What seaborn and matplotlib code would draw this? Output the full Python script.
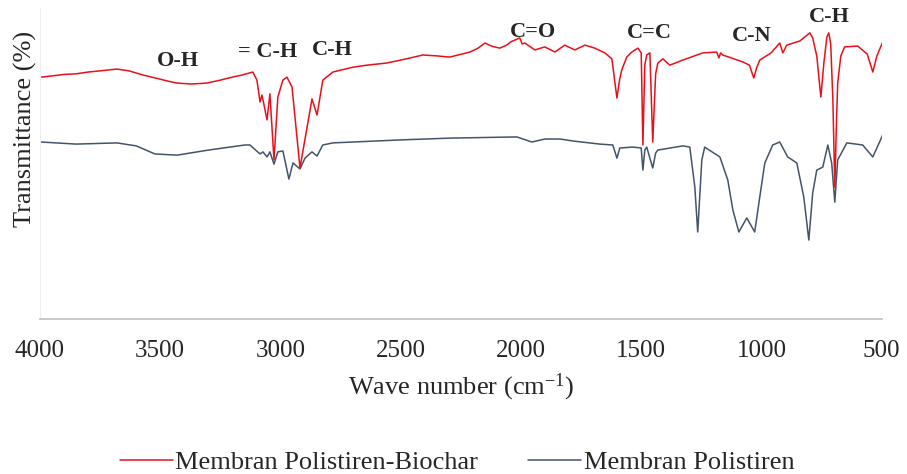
import numpy as np
import pandas as pd
import matplotlib
matplotlib.use("Agg")
import matplotlib.pyplot as plt
import seaborn as sns

# --- data (wave number in cm-1, transmittance a.u.) ---
wn_biochar = [3996, 3950, 3900, 3850, 3800, 3750, 3680, 3630, 3572, 3530, 3500, 3470,
              3430, 3370, 3306, 3250, 3200, 3160, 3115, 3098, 3085,
              3077, 3070, 3056, 3044, 3027, 3011, 2990, 2973, 2952, 2919, 2890, 2869,
              2848, 2824, 2782, 2700, 2641, 2560, 2500, 2450, 2408, 2350, 2296, 2212,
              2180, 2150, 2120, 2088, 2060, 2040, 2025, 2005, 1995,
              1984, 1942, 1901, 1859, 1818, 1776, 1734, 1693, 1651, 1622, 1601, 1590,
              1581, 1560, 1539, 1514, 1500, 1493, 1485, 1477, 1464, 1452, 1440, 1431,
              1410, 1381, 1327, 1244, 1186, 1177, 1170, 1161, 1078, 1050, 1032, 1020,
              1007, 960, 924, 911, 895, 840, 799, 787, 770, 753, 740, 728, 720, 712,
              703, 695, 688, 683, 670, 654, 600, 560, 537, 520, 496]
t_biochar = [80.9, 81.3, 81.8, 82.0, 82.6, 83.0, 83.6, 83.0, 81.6, 80.8, 80.2, 79.6,
             78.9, 78.6, 78.9, 79.9, 80.9, 81.6, 82.6, 79.9, 72.6,
             74.9, 72.2, 66.6, 75.3, 53.2, 74.2, 79.9, 80.9, 77.6, 50.5, 63.9, 73.6,
             68.2, 79.9, 82.6, 84.2, 84.9, 85.6, 86.6, 87.5, 88.3, 88.0, 87.6, 89.3,
             90.5, 92.3, 91.2, 90.6, 91.6, 92.8, 93.3, 94.0, 92.0,
             92.3, 90.0, 91.0, 89.3, 91.6, 90.0, 91.6, 90.6, 89.0, 87.0, 73.9, 80.0,
             83.3, 87.6, 89.3, 90.6, 89.0, 58.2, 85.0, 88.3, 89.0, 59.2, 82.0, 85.6,
             87.0, 84.9, 86.6, 89.0, 89.3, 87.3, 89.0, 88.3, 86.0, 84.9, 80.6, 84.0,
             86.6, 89.0, 92.3, 89.0, 91.6, 93.0, 95.7, 94.0, 88.0, 74.2, 86.0, 94.3,
             95.7, 92.0, 73.2, 44.1, 66.0, 78.9, 88.0, 91.0, 91.3, 88.6, 82.6, 88.0, 92.6]

wn_ps = [3996, 3850, 3680, 3600, 3522, 3430, 3300, 3148, 3127, 3085, 3073, 3056,
         3044, 3027, 3011, 2990, 2965, 2948, 2919, 2898, 2869, 2848, 2824, 2782,
         2500, 2296, 2017, 1955, 1900, 1838, 1780, 1672, 1618, 1601, 1589, 1535,
         1500, 1493, 1485, 1477, 1452, 1440, 1431, 1327, 1298, 1277, 1265, 1248,
         1236, 1173, 1140, 1119, 1094, 1061, 1028, 1007, 986, 953, 924, 891, 853,
         824, 803, 787, 770, 745, 724, 708, 695, 683, 645, 579, 537, 496]
t_ps = [59.2, 58.5, 58.9, 57.9, 55.2, 54.8, 56.5, 58.2, 58.2, 55.2, 55.9, 54.2,
        55.9, 51.8, 55.9, 56.2, 46.8, 52.2, 50.2, 53.8, 55.9, 54.5, 58.2, 58.9,
        59.9, 60.5, 60.9, 59.2, 60.2, 60.2, 59.5, 58.5, 58.2, 53.8, 57.2, 57.5,
        57.2, 49.8, 56.5, 57.5, 50.5, 55.5, 56.5, 57.9, 57.5, 44.1, 29.1, 53.2,
        57.5, 54.2, 46.5, 36.5, 29.1, 33.8, 29.1, 40.8, 52.2, 58.2, 59.2, 54.2, 52.2,
        40.8, 26.4, 42.1, 49.8, 50.8, 58.2, 52.2, 39.1, 53.2, 58.9, 58.2, 54.2, 61.5]

# band labels: (text, wave number, transmittance)
band_labels = ["O-H", "= C-H", "C-H", "C=O", "C=C", "C-N", "C-H"]
band_wn = [3426, 3052, 2786, 1951, 1468, 1040, 716]
band_t = [86.3, 89.3, 90.0, 96.0, 95.7, 94.6, 101.0]

series_names = ["Membran Polistiren-Biochar", "Membran Polistiren"]
colors = ["#e8101a", "#44546a"]

df = pd.concat([
    pd.DataFrame({"wn": wn_biochar, "T": t_biochar, "sampel": series_names[0]}),
    pd.DataFrame({"wn": wn_ps, "T": t_ps, "sampel": series_names[1]}),
])

sns.set_style("white")
plt.rcParams["font.family"] = ["Liberation Serif", "DejaVu Serif"]
plt.rcParams["mathtext.fontset"] = "custom"
plt.rcParams["mathtext.rm"] = "Liberation Serif"
plt.rcParams["mathtext.it"] = "Liberation Serif:italic"

fig = plt.figure(figsize=(9.07, 4.74), dpi=100)
ax = fig.add_axes([0.0441, 0.327, 0.928, 0.656])

# draw polistiren first so the red trace sits on top
for name, col in [(series_names[1], colors[1]), (series_names[0], colors[0])]:
    sns.lineplot(data=df[df["sampel"] == name], x="wn", y="T", color=col,
                 linewidth=1.1, estimator=None, sort=False, ax=ax, label=name)

for txt, x, y in zip(band_labels, band_wn, band_t):
    ax.text(x, y, txt, ha="center", va="center", fontsize=16, fontweight="bold")

ax.set_xlim(4000, 500)
ax.set_ylim(0, 104)
ax.set_xticks(np.arange(4000, 499, -500))
ax.set_yticks([])
ax.tick_params(axis="x", direction="in", length=6, width=1, color="#bfbfbf",
               labelsize=18, pad=15)

for side in ["top", "right"]:
    ax.spines[side].set_visible(False)
ax.spines["bottom"].set_color("#bfbfbf")
ax.spines["bottom"].set_linewidth(1.2)
ax.spines["left"].set_color("#eeeeee")
ax.spines["left"].set_linewidth(0.8)

ax.set_xlabel("Wave number (cm$^{\\mathregular{-1}}$)", fontsize=19, labelpad=7)
ax.set_ylabel("Transmittance (%)", fontsize=19)
ax.yaxis.set_label_coords(-0.003, 0.61)

handles, labels = ax.get_legend_handles_labels()
order = [labels.index(n) for n in series_names]
ax.legend([handles[i] for i in order], [labels[i] for i in order],
          loc="center", bbox_to_anchor=(0.504, 0.025), bbox_transform=fig.transFigure,
          ncol=2, frameon=False, fontsize=19, handlelength=2.0, handletextpad=0.1,
          columnspacing=1.9)

fig.savefig("out.png", dpi=100)
